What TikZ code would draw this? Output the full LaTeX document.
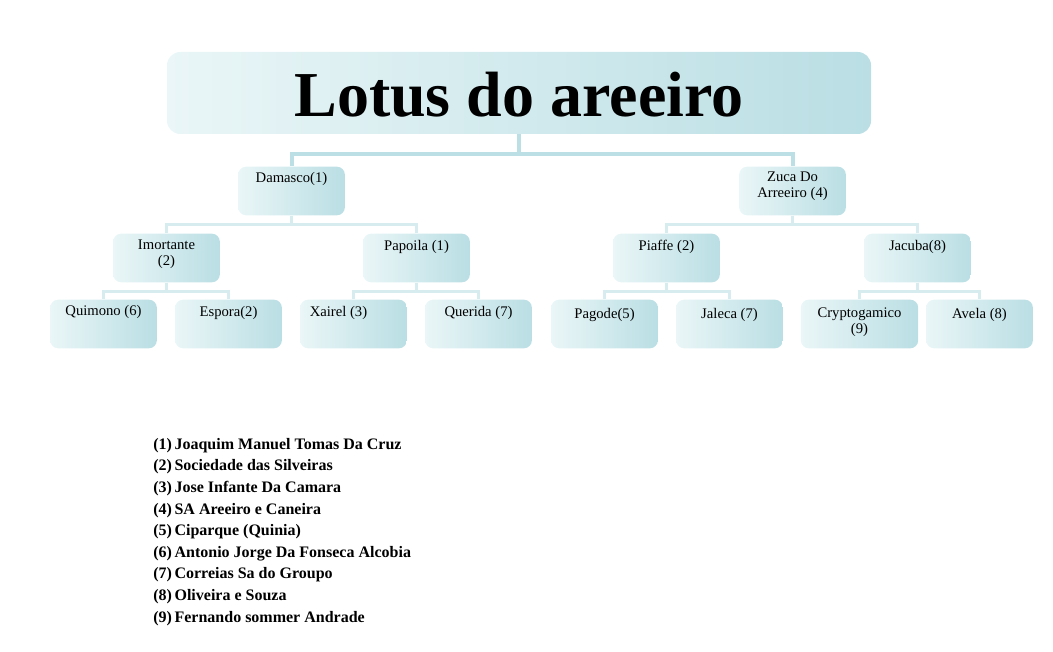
\documentclass[tikz,border=0pt]{standalone}
\usepackage{fontspec}
\setmainfont{Liberation Serif}
\definecolor{boxdark}{HTML}{A8D6DD}
\definecolor{boxlight}{HTML}{EAF6F7}
\definecolor{connA}{HTML}{BCDFE5}
\definecolor{connB}{HTML}{D6ECEF}
\tikzset{
  box/.style={rounded corners=6pt, minimum width=80pt, minimum height=36.5pt,
    left color=boxlight, right color=boxdark!80, inner sep=0pt},
  boxtext/.style={font=\fontsize{11}{12}\selectfont, align=center, anchor=north, inner sep=0pt},
  connT/.style={draw=connA, line width=3pt},
  connL/.style={draw=connB, line width=2.2pt},
  legend/.style={font=\bfseries\fontsize{12}{16.2}\selectfont, align=left, anchor=north west, inner sep=0pt}
}
\begin{document}
\begin{tikzpicture}[x=0.75pt,y=-0.75pt]
  \useasboundingbox (0,0) rectangle (1053,652);
  % title
  \node[box, rounded corners=10pt, minimum width=528pt, minimum height=61.5pt] (title) at (519,93) {};
  \node[font=\bfseries\fontsize{48}{50}\selectfont] (titletext) at (519,95) {Lotus do areeiro};
  % level one
  \node[box] (dam) at (291.5,191) {};
  \node[box] (zuc) at (792.5,191) {};
  % level two
  \node[box] (imo) at (166.5,258) {};
  \node[box] (pap) at (416.5,258) {};
  \node[box] (pia) at (666.5,258) {};
  \node[box] (jac) at (917.5,258) {};
  % level three
  \node[box] (qui) at (103.5,324) {};
  \node[box] (esp) at (228.5,324) {};
  \node[box] (xai) at (353.5,324) {};
  \node[box] (que) at (478.5,324) {};
  \node[box] (pag) at (604.5,324) {};
  \node[box] (jal) at (729.5,324) {};
  \node[box, minimum width=88pt] (cry) at (859.5,324) {};
  \node[box] (ave) at (979.5,324) {};
  % connectors
  \draw[connT] (title.south) -- ++(0,20) -| (dam.north);
  \draw[connT] (title.south) -- ++(0,20) -| (zuc.north);
  \foreach \p/\a/\b in {dam/imo/pap, zuc/pia/jac, imo/qui/esp, pap/xai/que, pia/pag/jal, jac/cry/ave} {
    \draw[connL] (\p.south) -- ++(0,9) -| (\a.north);
    \draw[connL] (\p.south) -- ++(0,9) -| (\b.north);
  }
  % texts
  \node[boxtext] (damt) at (291.5,172) {Damasco(1)};
  \node[boxtext] (zuct) at (792.5,172) {Zuca Do\\Arreeiro (4)};
  \node[boxtext] (imot) at (166.5,240) {Imortante\\(2)};
  \node[boxtext] (papt) at (416.5,240) {Papoila (1)};
  \node[boxtext] (piat) at (666.5,240) {Piaffe (2)};
  \node[boxtext] (jact) at (917.5,240) {Jacuba(8)};
  \node[boxtext] (quit) at (103.5,305) {Quimono (6)};
  \node[boxtext] (espt) at (228.5,306) {Espora(2)};
  \node[boxtext] (xait) at (338.5,306) {Xairel (3)};
  \node[boxtext] (quet) at (478.5,306) {Querida (7)};
  \node[boxtext] (pagt) at (604.5,308) {Pagode(5)};
  \node[boxtext] (jalt) at (729.5,308) {Jaleca (7)};
  \node[boxtext] (cryt) at (859.5,308) {Cryptogamico\\(9)};
  \node[boxtext] (avet) at (979.5,308) {Avela (8)};
  % legend
  \node[legend] (leg) at (153,438) {%
    (1)\,Joaquim Manuel Tomas Da Cruz\\
    (2)\,Sociedade das Silveiras\\
    (3)\,Jose Infante Da Camara\\
    (4)\,SA Areeiro e Caneira\\
    (5)\,Ciparque (Quinia)\\
    (6)\,Antonio Jorge Da Fonseca Alcobia\\
    (7)\,Correias Sa do Groupo\\
    (8)\,Oliveira e Souza\\
    (9)\,Fernando sommer Andrade};
\end{tikzpicture}
\end{document}
